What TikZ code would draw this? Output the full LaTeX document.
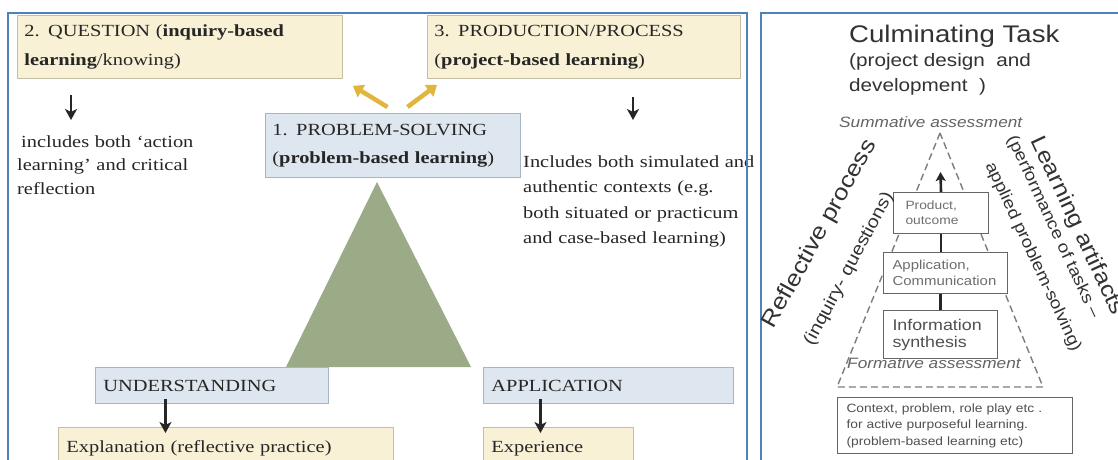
\documentclass[tikz,border=0pt]{standalone}
\usepackage{fontspec}
\setmainfont[FakeStretch=1.2]{Liberation Serif}
\newfontfamily\rsans[FakeStretch=1.15]{Liberation Sans}
\usetikzlibrary{arrows.meta}
\definecolor{panelblue}{RGB}{79,129,189}
\definecolor{yfill}{RGB}{248,241,213}
\definecolor{ydraw}{RGB}{196,190,165}
\definecolor{bfill}{RGB}{222,230,239}
\definecolor{bdraw}{RGB}{168,180,194}
\definecolor{trigreen}{RGB}{155,171,135}
\definecolor{yarr}{RGB}{226,182,60}
\definecolor{ink}{RGB}{38,38,38}
\definecolor{rink}{RGB}{50,50,50}
\definecolor{lgray}{RGB}{110,110,110}
\definecolor{mgray}{RGB}{80,80,80}
\definecolor{gtext}{RGB}{100,100,100}
\definecolor{dgray}{RGB}{125,125,125}
\newcommand\myfs[2]{\fontsize{#1pt}{#2pt}\selectfont}
\begin{document}
\begin{tikzpicture}[x=1pt,y=-1pt,
  panel/.style={draw=panelblue,line width=2pt},
  ybox/.style={draw=ydraw,fill=yfill,line width=0.9pt,rectangle,inner ysep=0pt,inner xsep=7pt,anchor=north west,align=left,text=ink},
  bbox/.style={draw=bdraw,fill=bfill,line width=0.9pt,rectangle,inner ysep=0pt,inner xsep=7pt,anchor=north west,align=left,text=ink},
  para/.style={anchor=north west,inner sep=0pt,align=left,text=ink},
  blk/.style={draw=ink,line width=2.6pt,-{Stealth[length=11pt,width=12pt,inset=3pt]}},
  yarrow/.style={draw=yarr,line width=4.5pt,-{Triangle[length=10pt,width=14pt]}},
  rbox/.style={draw=black!60,fill=white,line width=1pt,inner ysep=0pt,anchor=north west,align=left},
  rline/.style={draw=black!85,line width=2.6pt},
  rarrow/.style={draw=black!85,line width=2.6pt,-{Stealth[length=9pt,width=10pt,inset=2pt]}},
  dtri/.style={draw=dgray,line width=1.4pt,dash pattern=on 7pt off 4pt},
  rtext/.style={inner sep=0pt,text=rink}
]
\useasboundingbox (0,0) rectangle (1118,459);
\clip (0,0) rectangle (1118,459);
\fill[white] (0,0) rectangle (1118,459);

% ---------- left panel ----------
\fill[trigreen] (377,182) -- (286,367) -- (471,367) -- cycle;

\node[ybox,minimum width=325pt,minimum height=63pt,text width=311pt,font=\myfs{17}{29}] (q) at (17,15)
  {2. QUESTION (\textbf{inquiry-based}\\\textbf{learning}/knowing)};
\node[ybox,minimum width=313pt,minimum height=63pt,text width=299pt,font=\myfs{17}{29}] (p) at (427,15)
  {3. PRODUCTION/PROCESS\\(\textbf{project-based learning})};
\node[bbox,minimum width=255pt,minimum height=64pt,text width=241pt,font=\myfs{17}{28}] (ps) at (265,113)
  {1. PROBLEM-SOLVING\\(\textbf{problem-based learning})};

\node[para,text width=230pt,font=\myfs{17}{23.5}] (incl1) at (17,135.4)
  {\hspace*{4pt}includes both ‘action\\learning’ and critical\\reflection};
\node[para,text width=236pt,font=\myfs{17}{25.5}] (incl2) at (523,155.4)
  {Includes both simulated and\\authentic contexts (e.g.\\both situated or practicum\\and case-based learning)};

\node[bbox,minimum width=233pt,minimum height=36pt,text width=217pt,inner xsep=8pt,font=\myfs{17}{20}] (und) at (95,367) {UNDERSTANDING};
\node[bbox,minimum width=250pt,minimum height=36pt,text width=234pt,inner xsep=8pt,font=\myfs{17}{20}] (app) at (483,367) {APPLICATION};
\node[ybox,minimum width=335pt,minimum height=42pt,text width=319pt,inner xsep=8pt,font=\myfs{17}{20}] (expl) at (58,427) {Explanation (reflective practice)};
\node[ybox,minimum width=150pt,minimum height=42pt,text width=134pt,inner xsep=8pt,font=\myfs{17}{20}] (exp) at (483,427) {Experience};

\coordinate (qa1) at (71,95);
\coordinate (qa2) at (71,120);
\coordinate (pa1) at (633,97);
\coordinate (pa2) at (633,120);
\draw[blk] (qa1) -- (qa2);
\draw[blk] (pa1) -- (pa2);
\draw[blk] ([xshift=-46.5pt,yshift=5pt]und.south) -- ([xshift=-60.5pt,yshift=-6pt]expl.north);
\draw[blk] ([xshift=-68pt,yshift=5pt]app.south) -- ([xshift=-18pt,yshift=-6pt]exp.north);

\draw[yarrow] ([xshift=-5.5pt,yshift=6pt]ps.north) -- ([xshift=10pt,yshift=-7pt]q.south east);
\draw[yarrow] ([xshift=14.5pt,yshift=6pt]ps.north) -- ([xshift=10pt,yshift=-6pt]p.south west);

\draw[panel] (8,13) rectangle (747,490);

% ---------- right panel ----------
\draw[panel] (761,13) rectangle (1140,490);

\node[rtext,anchor=base west,font=\rsans\myfs{24}{28}] (ct) at (849,42) {Culminating Task};
\node[rtext,anchor=north west,align=left,font=\rsans\myfs{18}{25}] (pd) at (849,52.9) {(project design~ and\\development~ )};
\node[inner sep=0pt,anchor=base west,text=gtext,font=\rsans\itshape\myfs{15}{18}] (sa) at (839,127) {Summative assessment};

\draw[dtri] (940,133) -- (837,387) -- (1043,387) -- cycle;

\node[inner sep=0pt,anchor=base west,text=gtext,font=\rsans\itshape\myfs{15}{18}] (fa) at (847,368) {Formative assessment};

\node[rbox,minimum width=95pt,minimum height=41pt,text width=71pt,inner xsep=12pt,font=\rsans\myfs{12}{15},text=lgray] (prod) at (893,192) {Product,\\outcome};
\node[rbox,minimum width=124pt,minimum height=41pt,text width=106pt,inner xsep=9pt,font=\rsans\myfs{13}{16},text=lgray] (appl) at (883,252) {Application,\\Communication};
\node[rbox,minimum width=114pt,minimum height=48pt,text width=96pt,inner xsep=9pt,font=\rsans\myfs{15.5}{17},text=mgray] (info) at (883,310) {Information\\synthesis};
\node[rbox,minimum width=235pt,minimum height=56pt,text width=217pt,inner xsep=9pt,font=\rsans\myfs{12}{16.5},text=mgray] (ctx) at (837,397)
  {Context, problem, role play etc .\\for active purposeful learning.\\(problem-based learning etc)};

\coordinate (ptop) at (940.5,172);
\draw[rline] (info.north) -- (info.north |- appl.south);
\draw[rline] (prod.south |- appl.north) -- (prod.south);
\draw[rarrow] (prod.north) -- (ptop);

\node[rtext,rotate=61,font=\rsans\myfs{22.5}{26}] (rp) at (820,234) {Reflective process};
\node[rtext,rotate=62,font=\rsans\myfs{17.5}{20}] (iq) at (849,269) {(inquiry- questions)};
\node[rtext,rotate=-65,font=\rsans\myfs{22}{26}] (la) at (1077,226) {Learning artifacts};
\node[rtext,rotate=-65,font=\rsans\myfs{16.5}{20}] (pt) at (1053,227) {(performance of tasks –};
\node[rtext,rotate=-65,font=\rsans\myfs{16.5}{20}] (ap) at (1033,257) {applied problem-solving)};
\end{tikzpicture}
\end{document}
